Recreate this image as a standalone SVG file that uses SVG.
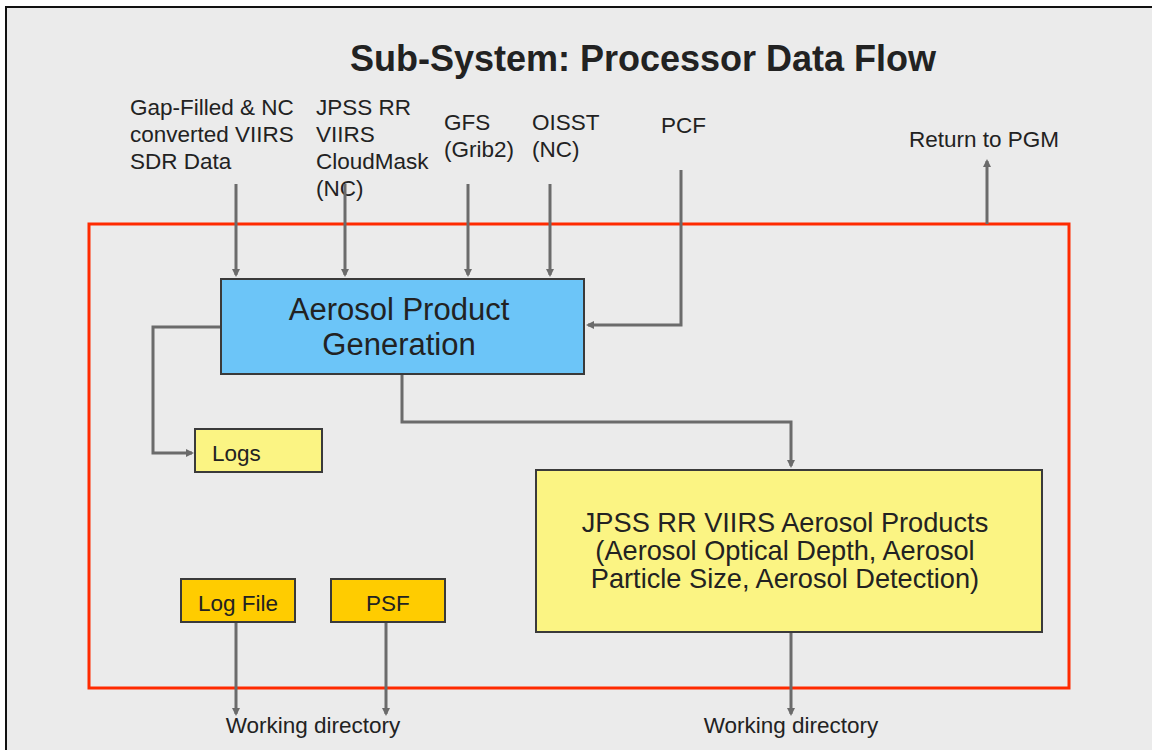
<svg xmlns="http://www.w3.org/2000/svg" width="1152" height="750" viewBox="0 0 1152 750">
<style>
.t{font-family:"Liberation Sans",Arial,sans-serif;fill:#222;}
.lbl{font-size:22.5px;}
.c{stroke:#6b6b6b;stroke-width:3;fill:none;}
.box{stroke:#3a3a3a;stroke-width:2;}
</style>
<defs>
<marker id="ah" markerWidth="8" markerHeight="8" refX="6" refY="4" orient="auto" markerUnits="userSpaceOnUse">
<path d="M0,0 L8,4 L0,8 Z" fill="#6b6b6b"/>
</marker>
</defs>
<rect x="0" y="0" width="1152" height="750" fill="#ffffff"/>
<rect x="6" y="7" width="1160" height="760" fill="#ebebeb" stroke="#111" stroke-width="2"/>
<text class="t" x="643" y="71" font-size="36" font-weight="bold" text-anchor="middle" fill="#333">Sub-System: Processor Data Flow</text>

<g id="inputs">
<text class="t lbl" x="130" y="115">Gap-Filled &amp; NC</text>
<text class="t lbl" x="130" y="142">converted VIIRS</text>
<text class="t lbl" x="130" y="169">SDR Data</text>
<text class="t lbl" x="316" y="115">JPSS RR</text>
<text class="t lbl" x="316" y="142">VIIRS</text>
<text class="t lbl" x="316" y="169">CloudMask</text>
<text class="t lbl" x="316" y="196">(NC)</text>
<text class="t lbl" x="444" y="130">GFS</text>
<text class="t lbl" x="444" y="157">(Grib2)</text>
<text class="t lbl" x="532" y="130">OISST</text>
<text class="t lbl" x="532" y="157">(NC)</text>
<text class="t lbl" x="661" y="133">PCF</text>
<text class="t lbl" x="909" y="147">Return to PGM</text>
</g>

<g id="boundary">
<rect x="89" y="224" width="980" height="464" fill="none" stroke="#ff2a00" stroke-width="3"/>
</g>

<g id="connectors">
<path class="c" d="M236,184 V275" marker-end="url(#ah)"/>
<path class="c" d="M345,184 V275" marker-end="url(#ah)"/>
<path class="c" d="M468,184 V275" marker-end="url(#ah)"/>
<path class="c" d="M550,184 V275" marker-end="url(#ah)"/>
<path class="c" d="M681,170 V325 H588" marker-end="url(#ah)"/>
<path class="c" d="M987,224 V161" marker-end="url(#ah)"/>
<path class="c" d="M221,327 H153 V453 H192" marker-end="url(#ah)"/>
<path class="c" d="M402,374 V422 H791 V466" marker-end="url(#ah)"/>
<path class="c" d="M791,632 V714" marker-end="url(#ah)"/>
<path class="c" d="M236,622 V714" marker-end="url(#ah)"/>
<path class="c" d="M386,622 V714" marker-end="url(#ah)"/>
</g>

<g id="apg">
<rect class="box" x="221" y="279" width="363" height="95" fill="#6cc5f8"/>
<text class="t" x="399" y="320" font-size="31" text-anchor="middle">Aerosol Product</text>
<text class="t" x="399" y="355" font-size="31" text-anchor="middle">Generation</text>
</g>

<g id="logs">
<rect class="box" x="195" y="429" width="127" height="43" fill="#fbf483"/>
<text class="t lbl" x="212" y="461">Logs</text>
</g>

<g id="products">
<rect class="box" x="536" y="470" width="506" height="162" fill="#fbf483"/>
<text class="t" x="785" y="532" font-size="27.2" text-anchor="middle">JPSS RR VIIRS Aerosol Products</text>
<text class="t" x="785" y="560" font-size="27.2" text-anchor="middle">(Aerosol Optical Depth, Aerosol</text>
<text class="t" x="785" y="588" font-size="27.2" text-anchor="middle">Particle Size, Aerosol Detection)</text>
</g>

<g id="logfile">
<rect class="box" x="181" y="579" width="114" height="43" fill="#ffcc00"/>
<text class="t lbl" x="238" y="611" text-anchor="middle">Log File</text>
</g>

<g id="psf">
<rect class="box" x="331" y="579" width="114" height="43" fill="#ffcc00"/>
<text class="t lbl" x="388" y="611" text-anchor="middle">PSF</text>
</g>

<g id="outputs">
<text class="t lbl" x="313" y="733" text-anchor="middle">Working directory</text>
<text class="t lbl" x="791" y="733" text-anchor="middle">Working directory</text>
</g>
</svg>
